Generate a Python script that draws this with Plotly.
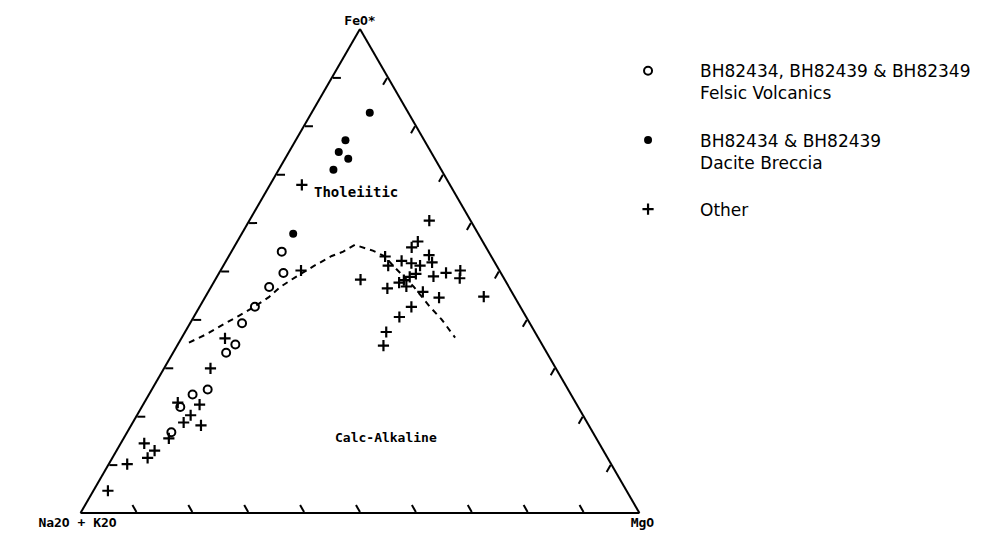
import plotly.graph_objects as go

# Ternary AFM data: FeO* (top), Na2O+K2O (bottom-left), MgO (bottom-right), in %
felsic_feo = [54.0, 49.6, 46.7, 42.6, 39.2, 34.8, 33.1, 25.5, 24.5, 21.9, 16.7]
felsic_alk = [37.0, 38.9, 42.9, 47.5, 51.5, 54.9, 57.4, 64.5, 67.7, 71.2, 75.4]
felsic_mgo = [9.0, 11.5, 10.4, 9.9, 9.3, 10.3, 9.5, 10.0, 7.8, 6.9, 7.9]

dacite_feo = [82.7, 77.0, 74.6, 73.2, 70.9, 57.7]
dacite_alk = [6.9, 14.1, 16.5, 15.5, 19.3, 33.1]
dacite_mgo = [10.4, 8.9, 8.9, 11.3, 9.8, 9.2]

other_feo = [67.8, 50.1, 36.1, 29.9, 22.8, 22.4, 20.2, 18.7, 18.1, 15.4, 14.4, 12.9, 11.4, 10.1, 4.6,
             48.2, 60.4, 56.1, 54.9, 53.0, 51.1, 52.1, 51.6, 53.3, 51.8, 49.6, 50.1, 48.5, 51.1, 49.4,
             48.8, 48.1, 47.6, 46.8, 48.9, 46.4, 45.7, 44.5, 44.7, 42.6, 40.5, 37.4, 34.6]
other_alk = [26.5, 35.5, 56.1, 61.8, 71.2, 67.5, 70.2, 72.2, 69.4, 76.5, 81.4, 80.3, 82.3, 86.6, 92.8,
             25.8, 7.4, 11.6, 13.3, 19.0, 19.4, 16.5, 15.0, 11.0, 11.2, 9.8, 7.0, 7.9, 13.7, 15.3,
             16.7, 18.1, 19.2, 18.3, 12.4, 21.9, 15.9, 13.6, 5.5, 19.5, 22.7, 26.6, 28.5]
other_mgo = [5.7, 14.4, 7.8, 8.3, 6.0, 10.1, 9.6, 9.1, 12.5, 8.1, 4.2, 6.8, 6.3, 3.3, 2.6,
             26.0, 32.2, 32.3, 31.8, 28.0, 29.5, 31.4, 33.4, 35.7, 37.0, 40.6, 42.9, 43.6, 35.2, 35.3,
             34.5, 33.8, 33.2, 34.9, 38.7, 31.7, 38.4, 41.9, 49.8, 37.9, 36.8, 36.0, 36.9]

# Tholeiitic / calc-alkaline dividing line
line_feo = [35.2, 36.9, 39.0, 40.7, 42.5, 44.6, 46.7, 48.75, 51.0, 53.1, 54.0, 55.4,
            54.2, 53.1, 50.4, 46.7, 42.7, 40.0, 36.25]
line_alk = [63.0, 59.1, 54.9, 51.4, 47.8, 44.0, 40.9, 37.15, 32.8, 28.5, 26.0, 23.2,
            20.6, 19.1, 18.3, 17.0, 16.2, 15.4, 14.85]
line_mgo = [1.8, 4.0, 6.1, 7.9, 9.7, 11.4, 12.4, 14.1, 16.2, 18.4, 20.0, 21.4,
            25.2, 27.8, 31.3, 36.3, 41.1, 44.6, 48.9]

series_names = ["BH82434, BH82439 & BH82349<br>Felsic Volcanics",
                "BH82434 & BH82439<br>Dacite Breccia",
                "Other"]
apex_labels = ["FeO*", "Na2O + K2O", "MgO"]
field_labels = ["Tholeiitic", "Calc-Alkaline"]

fig = go.Figure()
fig.add_trace(go.Scatterternary(
    a=line_feo, b=line_alk, c=line_mgo, mode="lines", showlegend=False,
    line=dict(color="black", width=2, dash="6px,5px"), hoverinfo="skip"))
fig.add_trace(go.Scatterternary(
    a=felsic_feo, b=felsic_alk, c=felsic_mgo, mode="markers", name=series_names[0],
    legendgroup="g1",
    marker=dict(symbol="circle-open", size=8, color="black", line=dict(width=2))))
fig.add_trace(go.Scatterternary(
    a=dacite_feo, b=dacite_alk, c=dacite_mgo, mode="markers", name=series_names[1],
    legendgroup="g2",
    marker=dict(symbol="circle", size=8, color="black")))
fig.add_trace(go.Scatterternary(
    a=other_feo, b=other_alk, c=other_mgo, mode="markers", name=series_names[2],
    legendgroup="g3",
    marker=dict(symbol="cross-thin", size=8, color="black", line=dict(width=2.2, color="black"))))

title_font = dict(family="DejaVu Sans Mono", size=13, color="black", weight="bold")
axis_common = dict(showgrid=False, showticklabels=False, ticks="inside", ticklen=8,
                   tickwidth=1.5, tickcolor="black", tick0=0, dtick=10,
                   showline=True, linecolor="black", linewidth=2)

fig.update_layout(
    width=984, height=544,
    paper_bgcolor="white", plot_bgcolor="white",
    margin=dict(l=0, r=0, t=21, b=39),
    ternary=dict(
        sum=100,
        domain=dict(x=[0.0, 0.7154], y=[0.0, 1.0]),
        bgcolor="white",
        aaxis=dict(title=dict(text=apex_labels[0], font=title_font), **axis_common),
        baxis=dict(title=dict(text=apex_labels[1], font=title_font), **axis_common),
        caxis=dict(title=dict(text=apex_labels[2], font=title_font), **axis_common),
    ),
    legend=dict(x=0.5976, y=0.950, xanchor="left", yanchor="top",
                font=dict(family="DejaVu Sans", size=17, color="black"),
                itemwidth=94, tracegroupgap=22, valign="top", traceorder="grouped",
                bgcolor="rgba(0,0,0,0)"),
    annotations=[
        dict(text=field_labels[0], x=348 / 984, y=1 - 183 / 544, xref="paper", yref="paper",
             showarrow=False, font=dict(family="DejaVu Sans Mono", size=14, color="black", weight="bold")),
        dict(text=field_labels[1], x=325 / 984, y=1 - 470 / 544, xref="paper", yref="paper",
             showarrow=False, font=dict(family="DejaVu Sans Mono", size=13, color="black", weight="bold")),
    ],
)

fig.write_html("out.html")
